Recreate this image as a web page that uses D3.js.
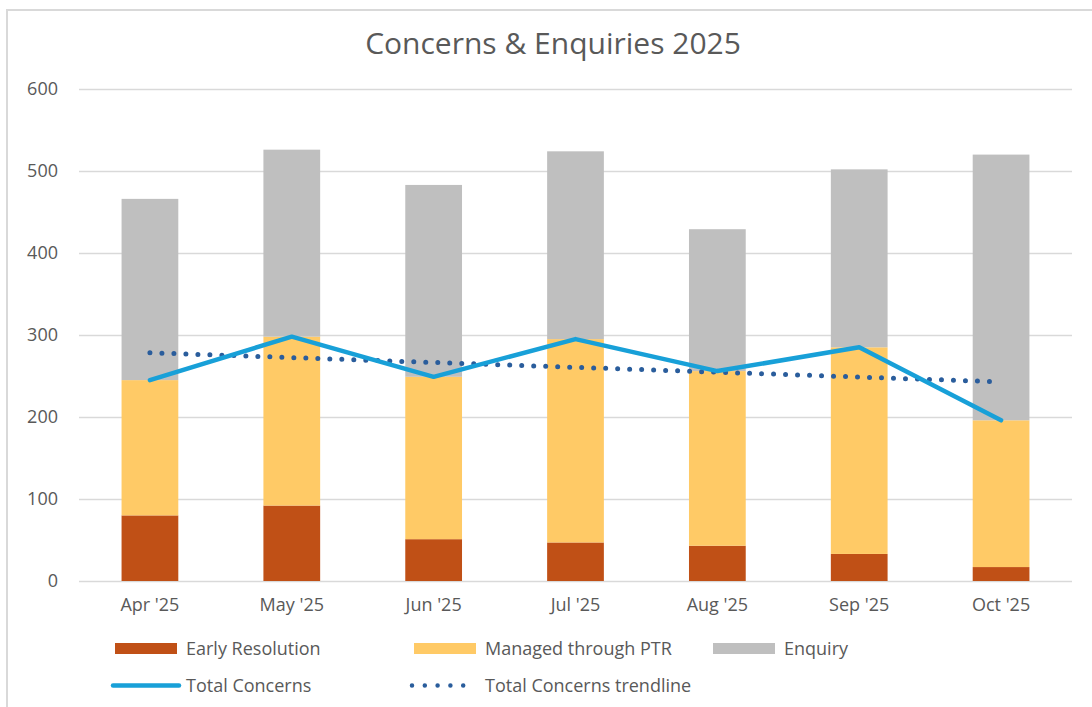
<!DOCTYPE html>
<html>
<head>
<meta charset="utf-8">
<script src="https://cdn.jsdelivr.net/npm/d3@7"></script>
<style>
  html, body { margin: 0; padding: 0; background: #ffffff; }
  svg { display: block; }
  text { font-family: "Open Sans", "Liberation Sans", Arial, sans-serif; fill: #595959; }
</style>
</head>
<body>
<div id="chart"></div>
<script>
// ---- Data ----
const months = ["Apr '25", "May '25", "Jun '25", "Jul '25", "Aug '25", "Sep '25", "Oct '25"];
const earlyResolution = [80, 92, 51, 47, 43, 33, 17];
const managedPTR = [165, 206, 198, 248, 213, 252, 179];
const enquiry = [221, 228, 234, 229, 173, 217, 324];
const yTicks = [0, 100, 200, 300, 400, 500, 600];
const seriesNames = ["Early Resolution", "Managed through PTR", "Enquiry"];
const lineNames = ["Total Concerns", "Total Concerns trendline"];
const colors = { early: "#C05016", ptr: "#FFCA66", enquiry: "#BFBFBF", total: "#18A0D8", trend: "#2A5D9C" };

// Total concerns = early resolution + managed through PTR
const totalConcerns = months.map((m, i) => earlyResolution[i] + managedPTR[i]);
// Linear trendline (least squares) of total concerns
const n = totalConcerns.length;
const xm = (n - 1) / 2;
const ym = d3.mean(totalConcerns);
const slope = d3.sum(totalConcerns, (v, i) => (i - xm) * (v - ym)) / d3.sum(totalConcerns, (v, i) => (i - xm) * (i - xm));
const trend = totalConcerns.map((v, i) => ym + slope * (i - xm));

const W = 1092, H = 707;
const svg = d3.select("#chart").append("svg").attr("width", W).attr("height", H);

// chart border
svg.append("rect").attr("x", 7).attr("y", 10).attr("width", 1100).attr("height", 720)
  .attr("fill", "#fff").attr("stroke", "#d9d9d9").attr("stroke-width", 2);

const x = d3.scaleBand().domain(months).range([79, 1072]).paddingInner(0.6).paddingOuter(0.3);
const y = d3.scaleLinear().domain([0, 600]).range([581, 89]);

// title
svg.append("text").attr("x", 553).attr("y", 54).attr("text-anchor", "middle")
  .style("font-size", "30px").text("Concerns & Enquiries 2025");

// gridlines + y labels
const yAxis = d3.axisLeft(y).tickValues(yTicks).tickSize(-(1072 - 79)).tickPadding(21);
const gy = svg.append("g").attr("transform", "translate(79,0)").call(yAxis);
gy.select(".domain").remove();
gy.selectAll(".tick line").attr("stroke", "#d9d9d9").attr("stroke-width", 1.5);
gy.selectAll(".tick text").style("font-size", "18px").attr("fill", "#595959").attr("font-family", null);

// stacked bars
const stackData = months.map((m, i) => ({ month: m, early: earlyResolution[i], ptr: managedPTR[i], enquiry: enquiry[i] }));
const stack = d3.stack().keys(["early", "ptr", "enquiry"]);
const layers = stack(stackData);
svg.append("g").selectAll("g").data(layers).join("g")
  .attr("fill", d => colors[d.key])
  .selectAll("rect").data(d => d).join("rect")
  .attr("x", d => x(d.data.month))
  .attr("width", x.bandwidth())
  .attr("y", d => y(d[1]))
  .attr("height", d => y(d[0]) - y(d[1]));

// x axis labels
const xAxis = d3.axisBottom(x).tickSize(0).tickPadding(17);
const gx = svg.append("g").attr("transform", "translate(0,581)").call(xAxis);
gx.select(".domain").remove();
gx.selectAll(".tick text").style("font-size", "18px").attr("fill", "#595959").attr("font-family", null);

const cx = (m) => x(m) + x.bandwidth() / 2;

// trendline
svg.append("line")
  .attr("x1", cx(months[0])).attr("y1", y(trend[0]))
  .attr("x2", cx(months[n - 1])).attr("y2", y(trend[n - 1]))
  .attr("stroke", colors.trend).attr("stroke-width", 5)
  .attr("stroke-linecap", "round").attr("stroke-dasharray", "0,12");

// total concerns line
svg.append("path").datum(totalConcerns)
  .attr("fill", "none").attr("stroke", colors.total).attr("stroke-width", 4.5)
  .attr("stroke-linejoin", "round").attr("stroke-linecap", "round")
  .attr("d", d3.line().x((d, i) => cx(months[i])).y(d => y(d)));

// legend
const legend = svg.append("g");
const legCols = [115, 414, 713];
const swatchColors = [colors.early, colors.ptr, colors.enquiry];
seriesNames.forEach((name, i) => {
  legend.append("rect").attr("x", legCols[i]).attr("y", 643).attr("width", 62).attr("height", 11)
    .attr("fill", swatchColors[i]);
  legend.append("text").attr("x", legCols[i] + 71).attr("y", 649).attr("dy", "0.35em")
    .style("font-size", "18px").text(name);
});
// line legends
legend.append("line").attr("x1", 113).attr("x2", 179).attr("y1", 685.5).attr("y2", 685.5)
  .attr("stroke", colors.total).attr("stroke-width", 4.5).attr("stroke-linecap", "round");
legend.append("text").attr("x", 186).attr("y", 686).attr("dy", "0.35em").style("font-size", "18px").text(lineNames[0]);
legend.append("line").attr("x1", 412).attr("x2", 476).attr("y1", 685.5).attr("y2", 685.5)
  .attr("stroke", colors.trend).attr("stroke-width", 4.5).attr("stroke-linecap", "round")
  .attr("stroke-dasharray", "0,12.8");
legend.append("text").attr("x", 485).attr("y", 686).attr("dy", "0.35em").style("font-size", "18px").text(lineNames[1]);
</script>
</body>
</html>
